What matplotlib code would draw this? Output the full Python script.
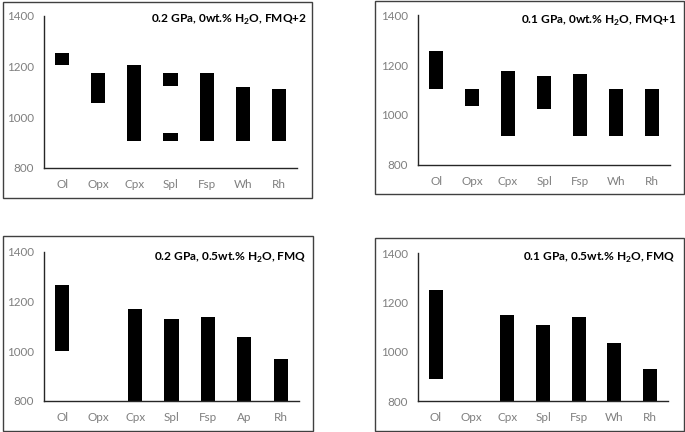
import matplotlib
matplotlib.use("Agg")
import matplotlib.pyplot as plt
from matplotlib.patches import Rectangle
import numpy as np

plt.rcParams['font.family'] = ['Lato', 'DejaVu Sans']

# ---- data ----
cats_a = ["Ol", "Opx", "Cpx", "Spl", "Fsp", "Wh", "Rh"]
cats_c = ["Ol", "Opx", "Cpx", "Spl", "Fsp", "Ap", "Rh"]

titles = [
    "0.2 GPa, 0wt.% H$_\\mathregular{2}$O, FMQ+2",
    "0.1 GPa, 0wt.% H$_\\mathregular{2}$O, FMQ+1",
    "0.2 GPa, 0.5wt.% H$_\\mathregular{2}$O, FMQ",
    "0.1 GPa, 0.5wt.% H$_\\mathregular{2}$O, FMQ",
]

# temperature ranges (low, high); None = phase absent
low_a = [1205, 1055, 905, 1125, 905, 905, 905]
high_a = [1255, 1175, 1205, 1175, 1175, 1120, 1110]
extra_a_cat = ["Spl"]
extra_a_low = [905]
extra_a_high = [940]

low_b = [1105, 1035, 915, 1025, 915, 915, 915]
high_b = [1255, 1105, 1175, 1155, 1165, 1105, 1105]

low_c = [1000, None, 800, 800, 800, 800, 800]
high_c = [1265, None, 1168, 1127, 1137, 1055, 967]

low_d = [890, None, 800, 800, 800, 800, 800]
high_d = [1250, None, 1148, 1110, 1140, 1037, 930]

yticks = [800, 1000, 1200, 1400]

# ---- layout (pixels) ----
W, H = 685, 432
fig = plt.figure(figsize=(W / 100, H / 100), dpi=100)

def px_axes(x0, x1, ytop, ybot):
    return fig.add_axes([x0 / W, 1 - ybot / H, (x1 - x0) / W, (ybot - ytop) / H])

def px_box(x0, x1, ytop, ybot):
    fig.add_artist(Rectangle((x0 / W, 1 - ybot / H), (x1 - x0) / W, (ybot - ytop) / H,
                             transform=fig.transFigure, fill=False,
                             edgecolor="#404040", lw=1.0))

panels = [
    dict(ax=(44, 297, 16, 168), box=(2.5, 312, 1.5, 197.5), cats=cats_a, low=low_a, high=high_a,
         title=titles[0], tpos=(306.5, 23.3), extra=True),
    dict(ax=(418, 670, 15.3, 164.7), box=(374.5, 684, 1.5, 194.5), cats=cats_a, low=low_b, high=high_b,
         title=titles[1], tpos=(677, 24), extra=False),
    dict(ax=(44, 299, 251.7, 400.7), box=(2.5, 313, 236, 430.5), cats=cats_c, low=low_c, high=high_c,
         title=titles[2], tpos=(306.5, 261), extra=False),
    dict(ax=(418, 668, 253.3, 401), box=(374.5, 684, 238, 430.5), cats=cats_a, low=low_d, high=high_d,
         title=titles[3], tpos=(675.5, 261), extra=False),
]

for p in panels:
    px_box(*p["box"])
    ax = px_axes(*p["ax"])
    x = np.arange(len(p["cats"]))
    lo = np.array([np.nan if v is None else v for v in p["low"]], dtype=float)
    hi = np.array([np.nan if v is None else v for v in p["high"]], dtype=float)
    ax.bar(x, hi - lo, bottom=lo, width=0.39, color="black")
    if p["extra"]:
        ex = [p["cats"].index(c) for c in extra_a_cat]
        ax.bar(ex, np.array(extra_a_high) - np.array(extra_a_low), bottom=extra_a_low,
               width=0.39, color="black")
    ax.set_xlim(-0.5, len(p["cats"]) - 0.5)
    ax.set_ylim(800, 1400)
    ax.set_yticks(yticks)
    ax.set_xticks(x)
    ax.set_xticklabels(p["cats"])
    for s in ["top", "right"]:
        ax.spines[s].set_visible(False)
    for s in ["left", "bottom"]:
        ax.spines[s].set_color("#262626")
        ax.spines[s].set_linewidth(1.0)
    ax.tick_params(axis="both", length=0, labelsize=8.4, colors="#7f7f7f")
    ax.tick_params(axis="y", pad=7.2)
    ax.tick_params(axis="x", pad=8.2)
    ax.patch.set_alpha(0)
    tx, ty = p["tpos"]
    fig.text(tx / W, 1 - ty / H, p["title"], ha="right", va="baseline",
             fontsize=8.6, fontweight="bold", color="black")

fig.savefig("out.png", dpi=100)
